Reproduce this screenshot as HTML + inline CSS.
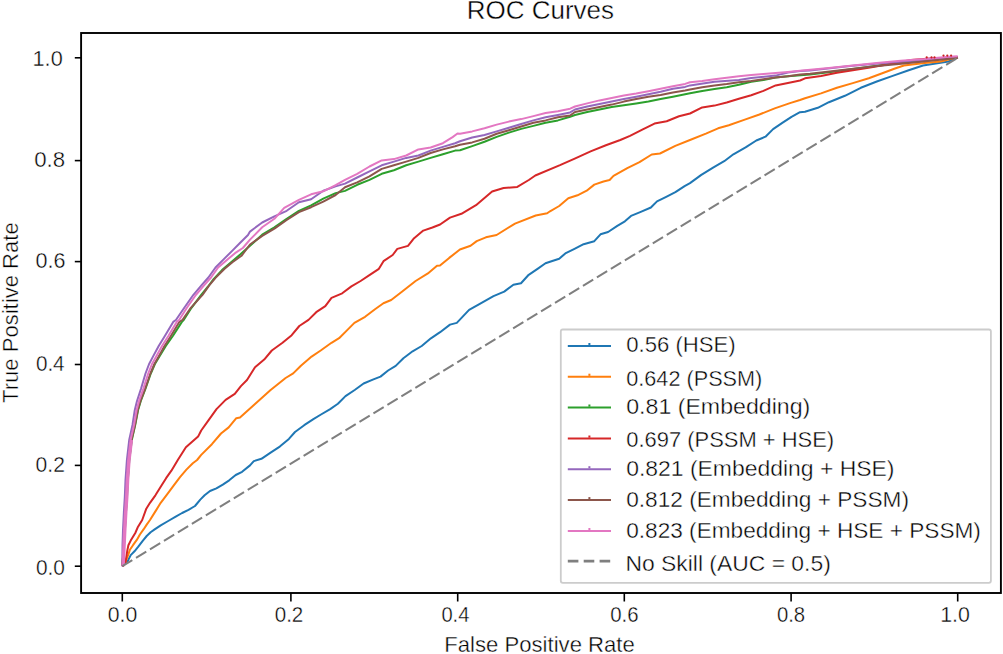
<!DOCTYPE html>
<html><head><meta charset="utf-8"><title>ROC Curves</title>
<style>
html,body{margin:0;padding:0;background:#fff;}
body{width:1003px;height:654px;overflow:hidden;font-family:"Liberation Sans",sans-serif;}
svg{display:block;}
</style></head><body>
<svg width="1003" height="654" viewBox="0 0 1003 654">
<rect x="0" y="0" width="1003" height="654" fill="#fff"/>
<g fill="none" stroke-linejoin="round" stroke-linecap="butt">
<polyline points="122.3,566.2 127.6,561.3 130.7,555.1 134.5,551.3 138.3,546.7 142.9,540.6 146.7,536.0 150.6,532.2 154.3,529.6 160.7,525.3 168.2,521.0 175.7,516.7 182.1,513.0 188.5,509.8 195.0,506.0 200.3,499.6 204.6,495.3 210.0,491.0 216.4,488.4 222.8,484.6 229.2,480.3 235.7,475.0 242.1,471.8 250.0,465.4 253.8,461.1 261.4,458.8 270.6,452.7 279.8,446.6 288.9,438.9 295.0,432.0 304.2,425.2 313.4,419.1 321.0,414.5 330.2,409.1 337.9,403.8 345.5,396.1 354.7,390.0 363.6,383.5 372.8,379.6 380.5,376.6 388.1,370.5 395.7,365.9 403.4,358.2 412.6,351.3 421.7,346.0 430.9,338.3 440.1,332.2 450.0,324.6 456.8,322.9 469.1,309.9 479.8,303.8 493.5,296.2 504.2,291.6 513.4,284.7 521.0,283.2 528.7,274.8 537.9,268.6 545.5,263.3 550.0,261.8 559.2,258.7 565.3,253.4 574.5,248.8 583.6,244.2 594.3,241.2 600.5,234.3 608.1,232.0 617.3,225.9 624.9,221.3 631.0,215.9 640.2,212.1 650.9,207.5 657.0,201.4 666.2,196.8 675.4,192.2 684.6,186.1 690.0,183.1 701.3,174.9 713.5,167.3 724.2,161.2 733.4,154.3 745.6,147.4 756.3,140.5 765.5,136.7 773.1,129.1 782.3,122.9 791.5,116.8 800.0,112.2 805.0,111.8 817.8,107.8 828.9,102.2 844.9,95.8 860.8,87.8 876.8,81.5 892.7,75.9 908.7,70.3 923.0,65.5 932.6,63.9 948.5,61.5 957.7,57.2" stroke="#1f77b4" stroke-width="2.00"/>
<polyline points="122.3,566.2 124.5,564.0 126.1,560.5 128.4,554.4 129.9,549.8 133.0,545.2 136.8,539.9 139.9,534.5 143.7,529.2 146.7,524.6 150.0,520.0 155.4,511.4 160.7,502.8 167.1,494.3 173.6,485.7 180.0,477.1 186.4,469.6 192.8,463.2 197.1,460.0 201.2,454.9 211.9,444.2 221.0,433.5 228.7,427.4 236.3,418.2 240.0,417.5 255.3,403.8 270.6,390.0 285.6,378.0 293.2,373.4 300.9,365.7 311.6,356.6 320.7,350.5 331.5,342.8 339.1,338.2 346.7,330.6 354.4,322.9 365.1,316.8 375.0,309.2 383.4,303.2 391.2,300.0 401.9,291.7 415.6,281.0 427.9,273.4 437.0,265.7 440.0,265.6 449.2,257.9 459.9,249.5 470.6,245.7 476.7,241.1 485.9,237.3 496.6,235.0 515.0,223.6 535.7,215.5 547.2,213.3 550.0,211.3 559.2,206.0 568.3,198.3 577.5,195.3 586.7,190.7 594.3,184.6 603.5,181.5 609.6,180.0 613.5,175.9 627.3,168.2 639.5,162.1 651.7,154.5 660.0,153.5 675.3,145.9 690.6,139.8 705.9,133.6 718.1,128.3 728.8,125.2 744.1,119.9 759.4,114.5 774.7,108.4 790.0,103.1 800.0,100.0 805.0,98.2 821.0,93.4 836.9,87.8 852.8,83.1 868.8,78.3 881.6,73.5 894.3,68.7 903.9,65.5 924.6,63.1 940.7,61.5 957.7,57.2" stroke="#ff7f0e" stroke-width="2.00"/>
<polyline points="122.3,566.2 124.0,545.0 124.9,530.0 126.0,512.0 127.0,497.0 127.8,480.0 129.3,460.0 131.8,440.0 135.2,425.0 138.1,410.0 140.8,401.0 145.4,388.8 150.8,373.5 154.9,364.0 159.4,356.4 165.8,346.0 173.0,335.7 181.9,321.9 183.7,320.0 191.5,307.8 201.2,294.8 207.7,287.0 213.6,279.2 222.0,270.1 231.1,262.3 240.2,254.5 262.2,234.7 274.4,227.3 286.7,218.8 298.9,210.8 311.1,205.3 323.3,198.6 335.6,193.1 345.0,190.9 357.2,184.8 369.5,179.9 381.7,173.8 393.9,170.2 406.2,165.3 418.4,161.6 430.6,157.9 442.9,154.3 455.1,150.6 460.0,150.3 472.2,146.1 484.5,141.8 496.7,136.9 508.9,132.6 521.2,128.9 533.4,125.9 545.6,122.8 557.9,120.4 570.1,116.7 575.0,115.0 587.2,112.0 599.5,109.5 611.7,107.1 623.9,105.3 636.2,103.4 648.4,101.6 660.6,99.1 672.9,96.7 685.1,94.3 690.0,93.3 702.2,90.9 714.5,89.0 726.7,87.2 738.9,84.8 751.2,81.7 763.4,79.9 775.6,77.4 787.9,76.2 810.0,74.4 830.6,72.1 890.0,64.1 958.0,57.5" stroke="#2ca02c" stroke-width="2.00"/>
<polyline points="122.3,566.2 125.2,564.0 126.5,555.9 127.3,550.6 128.4,545.2 130.7,540.6 133.0,536.8 135.3,533.0 137.6,527.6 139.9,523.8 142.2,520.0 146.3,508.7 150.0,502.8 155.4,495.3 160.7,486.8 166.1,478.2 171.4,470.7 177.8,460.0 185.9,447.3 198.1,436.6 201.2,430.5 208.8,419.8 216.5,409.1 225.6,399.9 234.8,393.8 240.9,386.1 247.0,380.0 255.0,367.3 264.2,359.6 271.8,350.5 282.5,342.8 291.7,335.2 299.3,326.0 308.5,319.9 316.2,312.2 325.3,306.1 331.5,297.9 342.2,293.3 351.4,286.4 360.6,281.0 369.8,274.9 378.9,268.8 383.5,261.2 392.7,255.0 397.3,248.9 408.0,245.9 414.1,238.2 423.3,230.6 432.4,227.5 440.1,224.5 450.0,217.6 461.4,213.8 476.0,205.2 492.1,191.5 503.6,188.0 517.3,186.9 528.8,180.0 535.3,175.5 560.0,165.2 575.3,158.3 590.6,151.4 605.9,145.3 620.3,140.0 630.0,135.8 642.3,129.7 654.5,123.6 666.7,121.2 679.0,116.3 690.0,113.5 702.2,107.4 714.5,105.6 726.7,102.5 738.9,98.8 751.2,95.2 763.4,90.9 775.6,85.4 787.9,82.9 800.1,80.5 805.0,78.3 821.0,75.9 836.9,72.7 852.8,70.3 870.0,67.5 890.0,64.0 911.0,60.0 930.0,58.5 957.7,57.5" stroke="#d62728" stroke-width="2.00"/>
<polyline points="122.3,566.2 122.5,545.0 123.0,530.0 123.9,512.0 124.8,497.0 125.5,480.0 126.9,460.0 129.2,440.0 132.5,425.0 134.8,410.0 137.0,401.0 141.0,388.8 145.5,373.5 149.1,364.0 153.1,356.4 158.7,346.0 165.0,335.7 173.2,321.9 175.9,320.0 184.3,307.8 193.4,294.8 201.2,285.7 208.4,277.5 215.5,267.5 224.6,258.4 232.4,250.6 240.2,242.8 248.0,235.0 250.0,231.6 262.2,222.5 274.4,216.3 286.7,210.8 298.9,202.3 311.1,199.2 323.3,190.7 335.6,186.4 345.0,183.6 357.2,177.5 369.5,171.4 381.7,165.3 393.9,161.6 406.2,157.9 418.4,155.5 430.6,150.6 442.9,146.9 455.1,143.2 460.0,141.2 472.2,137.5 484.5,135.0 496.7,131.4 508.9,127.7 521.2,124.0 533.4,120.4 545.6,117.3 557.9,114.9 570.1,112.4 575.0,109.5 587.2,106.5 599.5,104.0 611.7,101.6 623.9,99.1 636.2,96.7 648.4,94.3 660.6,91.8 672.9,88.7 685.1,86.9 690.0,85.4 714.5,81.7 738.9,79.9 751.2,78.0 775.6,75.6 787.9,72.5 800.1,71.0 810.0,70.5 850.0,66.0 890.0,62.5 958.0,57.5" stroke="#9467bd" stroke-width="2.00"/>
<polyline points="122.3,566.2 123.9,545.0 124.7,530.0 125.8,512.0 126.8,497.0 127.6,480.0 129.1,460.0 131.5,440.0 135.0,425.0 137.8,410.0 140.5,401.0 145.1,388.8 150.4,373.5 154.4,364.0 158.7,356.4 164.5,346.0 171.0,335.7 179.3,321.9 182.4,320.0 190.8,307.8 202.5,294.8 209.0,285.7 215.5,277.9 224.6,268.8 232.4,262.3 241.5,255.8 250.0,244.5 262.2,235.9 274.4,228.6 286.7,220.0 298.9,212.1 311.1,207.2 323.3,201.7 335.6,195.0 345.0,187.3 357.2,182.4 369.5,176.3 381.7,168.9 393.9,165.3 406.2,161.6 418.4,157.9 430.6,153.0 442.9,149.4 455.1,146.3 460.0,144.8 472.2,142.4 484.5,138.7 496.7,133.8 508.9,130.2 521.2,126.5 533.4,122.8 545.6,120.4 557.9,117.3 570.1,115.5 575.0,112.0 587.2,109.5 599.5,107.1 611.7,104.6 623.9,101.6 636.2,99.1 648.4,96.7 660.6,94.9 672.9,92.4 685.1,90.6 690.0,89.6 702.2,87.2 714.5,85.4 726.7,84.1 738.9,82.3 751.2,81.1 763.4,79.3 775.6,77.4 787.9,76.2 800.1,74.4 810.0,73.7 853.5,68.7 874.5,66.3 898.9,63.9 923.4,61.4 954.0,58.3 958.0,57.5" stroke="#8c564b" stroke-width="2.00"/>
<polyline points="122.3,566.2 123.3,545.0 124.0,530.0 125.0,512.0 126.0,497.0 126.8,480.0 128.2,460.0 130.6,440.0 134.0,425.0 136.6,410.0 139.0,401.0 143.3,388.8 148.2,373.5 152.0,364.0 156.2,356.4 162.0,346.0 168.5,335.7 176.7,321.9 179.1,320.0 186.9,307.8 196.0,294.8 203.8,285.7 211.0,277.5 218.1,267.5 227.2,259.7 235.0,253.2 242.8,248.0 250.0,239.6 262.2,227.3 274.4,218.8 284.2,207.8 298.9,199.8 311.1,194.3 323.3,191.3 335.6,185.2 345.0,179.9 357.2,173.8 369.5,166.5 381.7,160.4 393.9,159.1 406.2,155.5 418.4,149.4 430.6,147.5 442.9,143.2 452.6,137.1 457.5,133.5 460.0,133.8 472.2,131.4 484.5,128.3 496.7,124.6 508.9,121.6 521.2,119.1 533.4,116.1 545.6,113.0 557.9,111.2 570.1,108.7 575.0,106.5 587.2,103.4 599.5,100.4 611.7,97.9 623.9,95.5 636.2,93.6 648.4,91.2 660.6,88.7 672.9,86.3 685.1,83.9 690.0,82.3 702.2,81.1 714.5,79.3 726.7,77.8 738.9,76.2 751.2,75.0 763.4,74.1 775.6,73.1 787.9,71.9 800.1,70.7 805.0,70.3 828.9,67.9 852.8,65.5 876.8,63.1 900.7,60.7 924.6,59.1 948.5,56.7 957.7,56.2" stroke="#e377c2" stroke-width="2.00"/>
<polyline points="123.5,566.2 124.5,545.0 125.2,530.0 126.2,512.0 127.2,497.0 128.0,480.0 129.4,460.0 131.8,440.0" stroke="#e377c2" stroke-width="2.6"/>
<line x1="122.3" y1="566.2" x2="957.7" y2="57.8" stroke="#7f7f7f" stroke-width="2.0" stroke-dasharray="12.0,4.35" stroke-dashoffset="0.3"/>
<circle cx="926.7" cy="57.4" r="1.1" fill="#c81e1e"/>
<circle cx="931.5" cy="57.4" r="1.1" fill="#c81e1e"/>
<circle cx="934.5" cy="57.4" r="1.1" fill="#c81e1e"/>
<circle cx="943.5" cy="55.6" r="1.1" fill="#c81e1e"/>
<circle cx="947.3" cy="55.6" r="1.1" fill="#c81e1e"/>
<circle cx="951.1" cy="55.6" r="1.1" fill="#c81e1e"/>
</g>
<rect x="81.1" y="33.0" width="919.8" height="560.0" fill="none" stroke="#000" stroke-width="1.9"/>
<line x1="122.3" y1="593.0" x2="122.3" y2="601.5" stroke="#000" stroke-width="1.6"/>
<line x1="290.9" y1="593.0" x2="290.9" y2="601.5" stroke="#000" stroke-width="1.6"/>
<line x1="457.7" y1="593.0" x2="457.7" y2="601.5" stroke="#000" stroke-width="1.6"/>
<line x1="624.3" y1="593.0" x2="624.3" y2="601.5" stroke="#000" stroke-width="1.6"/>
<line x1="791.1" y1="593.0" x2="791.1" y2="601.5" stroke="#000" stroke-width="1.6"/>
<line x1="957.7" y1="593.0" x2="957.7" y2="601.5" stroke="#000" stroke-width="1.6"/>
<line x1="74.8" y1="566.2" x2="81.1" y2="566.2" stroke="#000" stroke-width="1.6"/>
<line x1="74.8" y1="465.4" x2="81.1" y2="465.4" stroke="#000" stroke-width="1.6"/>
<line x1="74.8" y1="364.5" x2="81.1" y2="364.5" stroke="#000" stroke-width="1.6"/>
<line x1="74.8" y1="261.6" x2="81.1" y2="261.6" stroke="#000" stroke-width="1.6"/>
<line x1="74.8" y1="160.6" x2="81.1" y2="160.6" stroke="#000" stroke-width="1.6"/>
<line x1="74.8" y1="57.8" x2="81.1" y2="57.8" stroke="#000" stroke-width="1.6"/>
<rect x="560.8" y="329.5" width="430.1" height="253.3" rx="2" ry="2" fill="#fff" fill-opacity="0.8" stroke="#cccccc" stroke-width="1.8"/>
<line x1="567.8" y1="346.0" x2="611" y2="346.0" stroke="#1f77b4" stroke-width="2.00"/>
<rect x="588.4" y="343.0" width="2" height="2.2" fill="#1f77b4"/>
<line x1="567.8" y1="376.7" x2="611" y2="376.7" stroke="#ff7f0e" stroke-width="2.00"/>
<rect x="588.4" y="373.7" width="2" height="2.2" fill="#ff7f0e"/>
<line x1="567.8" y1="407.5" x2="611" y2="407.5" stroke="#2ca02c" stroke-width="2.00"/>
<rect x="588.4" y="404.5" width="2" height="2.2" fill="#2ca02c"/>
<line x1="567.8" y1="438.5" x2="611" y2="438.5" stroke="#d62728" stroke-width="2.00"/>
<rect x="588.4" y="435.5" width="2" height="2.2" fill="#d62728"/>
<line x1="567.8" y1="469.2" x2="611" y2="469.2" stroke="#9467bd" stroke-width="2.00"/>
<rect x="588.4" y="466.2" width="2" height="2.2" fill="#9467bd"/>
<line x1="567.8" y1="500.1" x2="611" y2="500.1" stroke="#8c564b" stroke-width="2.00"/>
<rect x="588.4" y="497.1" width="2" height="2.2" fill="#8c564b"/>
<line x1="567.8" y1="531.0" x2="611" y2="531.0" stroke="#e377c2" stroke-width="2.00"/>
<rect x="588.4" y="528.0" width="2" height="2.2" fill="#e377c2"/>
<line x1="567.8" y1="561.2" x2="611" y2="561.2" stroke="#7f7f7f" stroke-width="2.8" stroke-dasharray="10.6,5.3"/>
<text x="466.77" y="19.00" font-size="25.60" font-family="Liberation Sans, sans-serif" fill="#000" stroke="#fff" stroke-width="0.4" textLength="147.31" lengthAdjust="spacingAndGlyphs">ROC Curves</text>
<text x="444.29" y="651.60" font-size="22.60" font-family="Liberation Sans, sans-serif" fill="#000" stroke="#fff" stroke-width="0.4" textLength="190.53" lengthAdjust="spacingAndGlyphs">False Positive Rate</text>
<text x="107.68" y="622.10" font-size="22.00" font-family="Liberation Sans, sans-serif" fill="#000" stroke="#fff" stroke-width="0.4" textLength="29.54" lengthAdjust="spacingAndGlyphs">0.0</text>
<text x="274.70" y="622.10" font-size="22.00" font-family="Liberation Sans, sans-serif" fill="#000" stroke="#fff" stroke-width="0.4" textLength="28.63" lengthAdjust="spacingAndGlyphs">0.2</text>
<text x="441.41" y="622.10" font-size="22.00" font-family="Liberation Sans, sans-serif" fill="#000" stroke="#fff" stroke-width="0.4" textLength="28.03" lengthAdjust="spacingAndGlyphs">0.4</text>
<text x="610.20" y="622.10" font-size="22.00" font-family="Liberation Sans, sans-serif" fill="#000" stroke="#fff" stroke-width="0.4" textLength="28.38" lengthAdjust="spacingAndGlyphs">0.6</text>
<text x="776.91" y="622.10" font-size="22.00" font-family="Liberation Sans, sans-serif" fill="#000" stroke="#fff" stroke-width="0.4" textLength="28.27" lengthAdjust="spacingAndGlyphs">0.8</text>
<text x="940.20" y="622.10" font-size="22.00" font-family="Liberation Sans, sans-serif" fill="#000" stroke="#fff" stroke-width="0.4" textLength="29.72" lengthAdjust="spacingAndGlyphs">1.0</text>
<text x="35.89" y="574.70" font-size="22.00" font-family="Liberation Sans, sans-serif" fill="#000" stroke="#fff" stroke-width="0.4" textLength="29.01" lengthAdjust="spacingAndGlyphs">0.0</text>
<text x="35.58" y="471.60" font-size="22.00" font-family="Liberation Sans, sans-serif" fill="#000" stroke="#fff" stroke-width="0.4" textLength="29.26" lengthAdjust="spacingAndGlyphs">0.2</text>
<text x="35.89" y="370.70" font-size="22.00" font-family="Liberation Sans, sans-serif" fill="#000" stroke="#fff" stroke-width="0.4" textLength="28.76" lengthAdjust="spacingAndGlyphs">0.4</text>
<text x="35.57" y="267.80" font-size="22.00" font-family="Liberation Sans, sans-serif" fill="#000" stroke="#fff" stroke-width="0.4" textLength="29.96" lengthAdjust="spacingAndGlyphs">0.6</text>
<text x="34.24" y="166.70" font-size="22.00" font-family="Liberation Sans, sans-serif" fill="#000" stroke="#fff" stroke-width="0.4" textLength="30.91" lengthAdjust="spacingAndGlyphs">0.8</text>
<text x="32.57" y="65.80" font-size="22.00" font-family="Liberation Sans, sans-serif" fill="#000" stroke="#fff" stroke-width="0.4" textLength="30.16" lengthAdjust="spacingAndGlyphs">1.0</text>
<text x="626.25" y="352.30" font-size="22.00" font-family="Liberation Sans, sans-serif" fill="#000" stroke="#fff" stroke-width="0.4" textLength="109.49" lengthAdjust="spacingAndGlyphs">0.56 (HSE)</text>
<text x="626.26" y="385.50" font-size="22.00" font-family="Liberation Sans, sans-serif" fill="#000" stroke="#fff" stroke-width="0.4" textLength="136.04" lengthAdjust="spacingAndGlyphs">0.642 (PSSM)</text>
<text x="626.21" y="414.20" font-size="22.00" font-family="Liberation Sans, sans-serif" fill="#000" stroke="#fff" stroke-width="0.4" textLength="184.05" lengthAdjust="spacingAndGlyphs">0.81 (Embedding)</text>
<text x="626.25" y="446.90" font-size="22.00" font-family="Liberation Sans, sans-serif" fill="#000" stroke="#fff" stroke-width="0.4" textLength="207.93" lengthAdjust="spacingAndGlyphs">0.697 (PSSM + HSE)</text>
<text x="626.22" y="476.20" font-size="22.00" font-family="Liberation Sans, sans-serif" fill="#000" stroke="#fff" stroke-width="0.4" textLength="268.18" lengthAdjust="spacingAndGlyphs">0.821 (Embedding + HSE)</text>
<text x="626.23" y="507.10" font-size="22.00" font-family="Liberation Sans, sans-serif" fill="#000" stroke="#fff" stroke-width="0.4" textLength="282.71" lengthAdjust="spacingAndGlyphs">0.812 (Embedding + PSSM)</text>
<text x="626.23" y="538.20" font-size="22.00" font-family="Liberation Sans, sans-serif" fill="#000" stroke="#fff" stroke-width="0.4" textLength="354.67" lengthAdjust="spacingAndGlyphs">0.823 (Embedding + HSE + PSSM)</text>
<text x="625.48" y="571.00" font-size="22.00" font-family="Liberation Sans, sans-serif" fill="#000" stroke="#fff" stroke-width="0.4" textLength="205.33" lengthAdjust="spacingAndGlyphs">No Skill (AUC = 0.5)</text>
<text transform="translate(18.00,402.99) rotate(-90)" x="0" y="0" font-size="22.60" font-family="Liberation Sans, sans-serif" fill="#000" stroke="#fff" stroke-width="0.4" textLength="180.68" lengthAdjust="spacingAndGlyphs">True Positive Rate</text>
</svg>
</body></html>
